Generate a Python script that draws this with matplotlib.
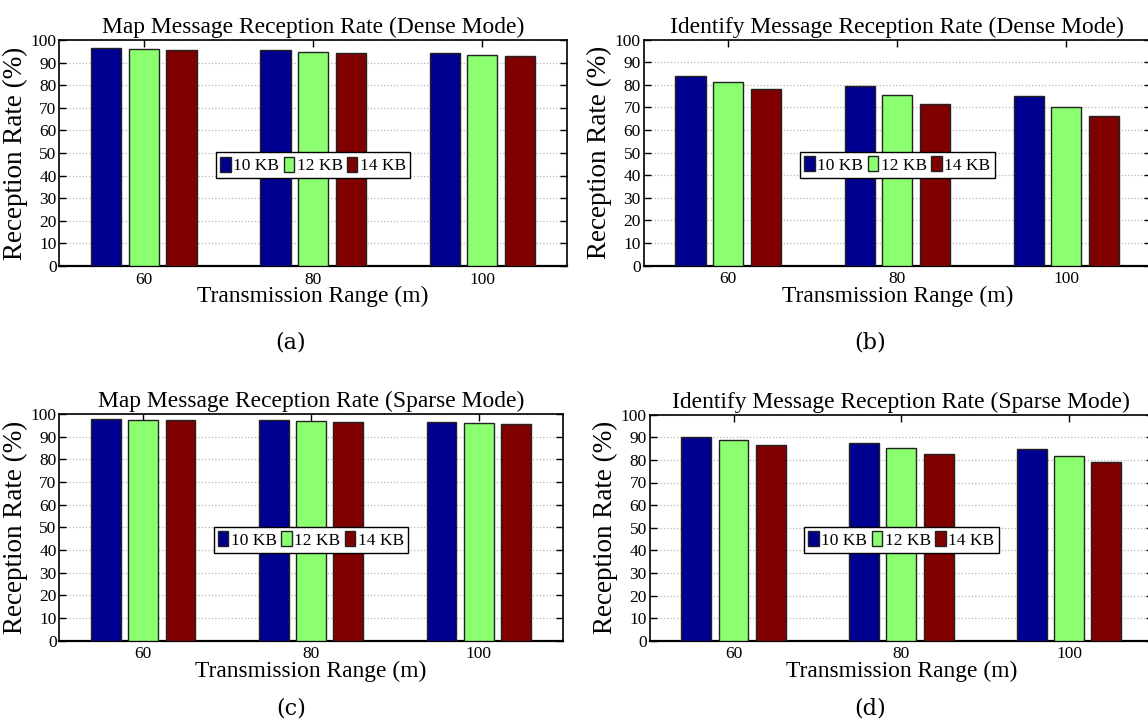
import matplotlib
matplotlib.use("Agg")
import matplotlib.pyplot as plt
import numpy as np

plt.rcParams['font.family'] = ['Liberation Serif', 'DejaVu Serif']

ranges = ["60", "80", "100"]
sizes = ["10 KB", "12 KB", "14 KB"]

titles = [
    "Map Message Reception Rate (Dense Mode)",
    "Identify Message Reception Rate (Dense Mode)",
    "Map Message Reception Rate (Sparse Mode)",
    "Identify Message Reception Rate (Sparse Mode)",
]
sub_labels = ["(a)", "(b)", "(c)", "(d)"]

# values[series][range]
map_dense = [[96.3, 95.4, 94.4],
             [95.9, 94.6, 93.5],
             [95.4, 94.1, 92.8]]
identify_dense = [[84.0, 79.4, 75.1],
                  [81.2, 75.4, 70.3],
                  [78.1, 71.3, 66.0]]
map_sparse = [[97.8, 97.2, 96.6],
              [97.4, 96.8, 96.2],
              [97.2, 96.3, 95.7]]
identify_sparse = [[90.0, 87.5, 84.7],
                   [88.6, 85.1, 81.9],
                   [86.4, 82.6, 78.9]]

datasets = [map_dense, identify_dense, map_sparse, identify_sparse]
colors = ["#000090", "#8CFF70", "#800000"]

W, H = 1148, 726
fig = plt.figure(figsize=(W / 100, H / 100), dpi=100)

# axes boxes in pixels: left, top, right, bottom
boxes = [
    (59.3, 40, 567, 266),
    (643.5, 39.5, 1151, 265.5),
    (59.3, 414, 562.6, 640.7),
    (649.7, 414.7, 1153, 640.7),
]
sub_pos = [(291, 342), (870, 342), (291, 709), (870, 709)]

for i, (data, title, box) in enumerate(zip(datasets, titles, boxes)):
    l, t, r, b = box
    ax = fig.add_axes([l / W, 1 - b / H, (r - l) / W, (b - t) / H])
    x = np.arange(1, len(ranges) + 1)
    step = 0.6667 / 3
    for k, (vals, c, lab) in enumerate(zip(data, colors, sizes)):
        ax.bar(x + (k - 1) * step, vals, width=step * 0.8, color=c,
               edgecolor="#222222", linewidth=1.0, label=lab, zorder=3)
    ax.set_xlim(0.5, 3.5)
    ax.set_ylim(0, 100)
    ax.set_yticks(np.arange(0, 101, 10))
    ax.set_xticks(x)
    ax.set_xticklabels(ranges)
    ax.tick_params(direction='in', top=True, right=True, length=5,
                   width=1.0, labelsize=12.5, pad=2)
    ax.tick_params(axis='x', pad=4)
    ax.yaxis.grid(True, linestyle=':', color='#b8b8b8', linewidth=0.9, zorder=0)
    ax.set_axisbelow(True)
    for s in ax.spines.values():
        s.set_linewidth(1.2)
    ax.spines['bottom'].set_linewidth(1.6)
    ax.set_title(title, fontsize=16.9, pad=5)
    ax.set_xlabel("Transmission Range (m)", fontsize=16.9, labelpad=-1)
    ax.set_ylabel("Reception Rate (%)", fontsize=19.5, labelpad=2)
    leg = ax.legend(loc='center', bbox_to_anchor=(0.5, 0.445), ncol=3,
                    fontsize=12.5, handlelength=0.6, handleheight=0.95,
                    handletextpad=0.15, columnspacing=0.25, borderpad=0.25,
                    borderaxespad=0, fancybox=False, framealpha=1,
                    edgecolor='black')
    leg.get_frame().set_linewidth(1.0)
    sx, sy = sub_pos[i]
    fig.text(sx / W, 1 - sy / H, sub_labels[i], ha='center', va='center',
             fontsize=16, family=['DejaVu Serif'])

fig.savefig("out.png", dpi=100)
